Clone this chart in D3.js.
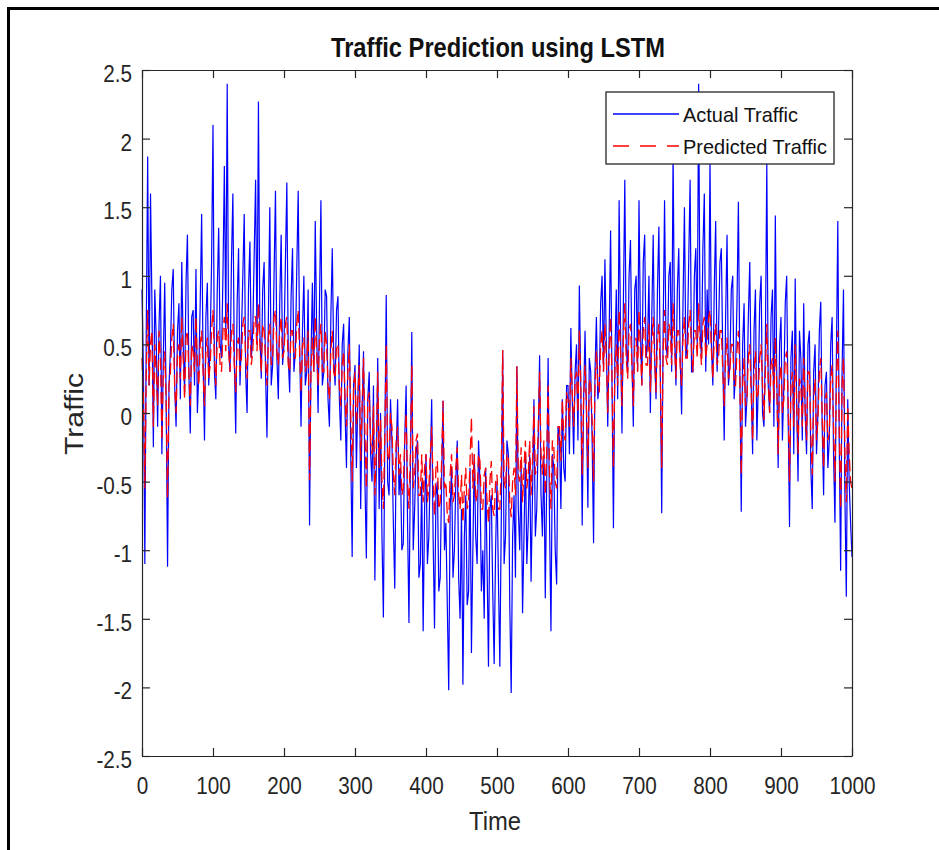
<!DOCTYPE html>
<html>
<head>
<meta charset="utf-8">
<script src="https://cdn.jsdelivr.net/npm/d3@7"></script>
<style>
  body { margin: 0; background: #fff; }
  text { font-family: "Liberation Sans", Arial, sans-serif; }
</style>
</head>
<body>
<div id="chart"></div>
<script>
// sample index runs 0..1000, one value every 2 steps
var timeStep = 2
var time = d3.range(0, 1001, timeStep)

var actualTraffic = [
 0.9, 0.3, -1.1, 0.6, 1.87, 0.2, 1.6, 0.8, -0.25, 0.9, 0.55, -0.1, 0.65, 1.0, -0.3, 0.4, 0.95, 0.1, -1.12, 0.2,
 0.45, 0.9, 1.05, 0.2, -0.1, 0.6, 0.8, 0.1, 1.1, 0.5, 0.15, 0.95, 1.3, 0.3, -0.15, 0.7, 0.75, 0.2, 1.05, 0.0,
 0.3, 0.8, 1.45, 0.4, -0.2, 0.7, 0.95, 0.2, 0.5, 1.1, 2.1, 0.3, 0.1, 0.9, 1.35, 0.5, 0.4, 1.0, 1.8, 0.6,
 2.4, 0.5, 0.3, 1.1, 1.6, 0.4, -0.15, 0.8, 1.2, 0.2, 0.55, 1.0, 1.45, 0.3, 0.0, 0.9, 1.25, 0.4, 0.6, 1.15,
 1.7, 0.5, 2.27, 0.6, 0.25, 0.9, 1.1, 0.3, -0.18, 0.7, 1.5, 0.2, 0.35, 1.0, 1.62, 0.4, 0.1, 0.8, 1.3, 0.35,
 0.5, 1.1, 1.68, 0.4, 0.15, 0.85, 1.2, 0.3, 0.45, 1.05, 1.62, 0.5, -0.1, 0.6, 1.0, 0.2, 0.3, 0.9, -0.82, 0.4,
 0.95, 0.3, 1.4, 0.6, 0.0, 0.8, 1.55, 0.2, 0.3, 0.9, 0.85, 0.1, -0.1, 0.7, 1.2, 0.4, 0.2, 0.75, 0.85, 0.1,
 -0.2, 0.5, 0.65, 0.0, -0.4, 0.45, 0.7, -0.3, -1.05, 0.2, 0.35, -0.4, 0.1, 0.5, -0.7, 0.0, 0.45, -0.5, -1.06, 0.1,
 0.3, -0.3, -0.5, 0.2, -1.22, -0.4, 0.4, -0.7, 0.0, -0.9, -1.49, -0.2, 0.86, -0.5, -0.6, 0.1, -0.2, -0.8, -1.28, -0.3,
 0.1, -0.6, -0.4, -1.0, -0.95, -0.2, 0.2, -0.8, -1.53, -0.4, 0.59, -1.0, -0.7, -0.3, -0.2, -1.2, -1.1, -0.5, -1.59, -0.7,
 -0.3, -1.1, -0.9, -0.4, 0.1, -0.9, -1.57, -0.6, -0.5, -1.3, -1.2, -0.5, 0.09, -1.0, -0.8, -1.4, -2.02, -0.7, -0.4, -1.2,
 -1.0, -0.5, -0.2, -1.2, -1.5, -0.7, -1.98, -0.9, -0.6, -1.4, -1.3, -0.4, -1.75, -1.0, -0.3, -0.9, -1.1, -0.2, -0.5, -1.3,
 -1.0, -1.5, -0.4, -1.1, -1.85, -0.7, -0.6, -1.3, -1.83, -1.0, -0.5, -1.2, -1.85, -0.8, 0.46, -1.1, -0.9, -0.2, -0.3, -1.4,
 -2.04, -0.9, -0.6, -1.2, 0.34, -0.7, -1.0, -0.4, -1.46, -0.9, -0.3, -1.1, -0.8, -0.3, -1.23, -0.6, 0.1, -0.9, -0.7, -0.2,
 0.42, -0.6, -0.9, -0.3, -1.35, -0.5, 0.4, -0.8, -1.59, -0.3, -0.4, -1.0, -1.25, -0.1, -0.2, -0.7, 0.1, -0.4, -0.5, 0.2,
 0.2, -0.3, 0.62, 0.1, -0.3, 0.3, 0.5, -0.2, 0.93, 0.2, -0.82, 0.1, 0.6, 0.0, -0.69, 0.4, 0.3, -0.2, -0.95, 0.3,
 0.7, 0.1, 0.2, 0.8, 1.0, 0.3, 1.12, 0.5, -0.1, 0.6, 1.33, 0.2, -0.84, 0.4, 0.9, 0.1, 1.55, 0.6, -0.15, 0.8,
 1.7, 0.5, 0.3, 1.0, 1.26, 0.4, -0.1, 0.9, 1.0, 0.3, 1.55, 0.6, 0.2, 1.1, 1.3, 0.4, 0.5, 1.0, 0.0, 0.7,
 1.3, 0.4, 0.1, 0.9, 1.36, 0.3, -0.73, 0.6, 1.55, 0.5, 0.4, 1.0, 1.1, 0.3, 1.9, 0.6, 0.2, 0.9, 1.2, 0.4,
 -0.01, 0.8, 1.5, 0.4, 0.5, 1.1, 1.7, 0.3, 0.3, 1.0, 1.2, 0.5, 2.4, 0.6, 0.4, 1.2, 1.6, 0.3, 0.9, 0.5,
 1.85, 0.5, 0.2, 0.9, 1.4, 0.3, 0.6, 1.1, 1.2, 0.4, -0.2, 0.7, 1.3, 0.2, 0.35, 0.9, 1.0, 0.1, 0.3, 0.8,
 1.54, 0.3, -0.72, 0.5, 0.8, -0.1, 0.1, 0.7, 1.1, 0.2, -0.3, 0.6, 0.9, -0.2, 0.2, 0.8, 1.0, 0.0, -0.1, 0.5,
 1.82, 0.2, 0.0, 0.7, 0.9, -0.1, 1.44, 0.3, -0.4, 0.5, 0.7, -0.2, 0.2, 0.8, 1.0, 0.0, -0.83, 0.4, 0.6, -0.3,
 0.98, 0.1, -0.5, 0.6, 0.4, -0.2, 0.8, 0.0, -0.3, 0.5, 0.6, -0.4, -0.7, 0.3, 0.5, -0.3, 0.0, 0.6, 0.81, -0.1,
 -0.6, 0.2, 0.3, -0.4, -0.2, 0.5, 0.7, -0.3, -0.8, 0.4, 1.4, -0.2, -1.15, 0.3, 0.9, -0.6, -1.34, 0.1, -0.5, -0.8,
 -1.05]

var predictedTraffic = [
 0.4, 0.1, -0.55, 0.3, 0.75, 0.2, 0.5, 0.6, -0.1, 0.5, 0.3, 0.05, 0.6, 0.4, -0.2, 0.3, 0.45, 0.1, -0.62, 0.2,
 0.3, 0.55, 0.65, 0.2, 0.0, 0.45, 0.5, 0.25, 0.7, 0.4, 0.1, 0.55, 0.6, 0.3, 0.05, 0.5, 0.45, 0.3, 0.7, 0.35,
 0.2, 0.5, 0.6, 0.3, 0.05, 0.45, 0.55, 0.25, 0.35, 0.6, 0.75, 0.4, 0.2, 0.55, 0.6, 0.35, 0.3, 0.6, 0.7, 0.45,
 0.8, 0.45, 0.3, 0.6, 0.65, 0.35, 0.15, 0.5, 0.55, 0.3, 0.4, 0.65, 0.7, 0.4, 0.25, 0.6, 0.6, 0.35, 0.45, 0.7,
 0.7, 0.45, 0.8, 0.5, 0.3, 0.65, 0.6, 0.4, 0.2, 0.55, 0.65, 0.35, 0.4, 0.7, 0.75, 0.45, 0.35, 0.6, 0.7, 0.4,
 0.45, 0.65, 0.7, 0.35, 0.3, 0.6, 0.6, 0.4, 0.4, 0.65, 0.75, 0.45, 0.15, 0.5, 0.55, 0.3, 0.35, 0.6, -0.49, 0.3,
 0.55, 0.3, 0.7, 0.45, 0.2, 0.55, 0.65, 0.3, 0.3, 0.6, 0.5, 0.2, 0.1, 0.45, 0.6, 0.3, 0.25, 0.5, 0.5, 0.2,
 0.05, 0.35, 0.45, 0.1, -0.1, 0.3, 0.5, 0.0, -0.5, 0.2, 0.3, -0.1, 0.1, 0.35, -0.35, 0.05, 0.4, -0.15, -0.55, 0.1,
 0.15, -0.2, -0.3, 0.05, -0.6, -0.25, 0.3, -0.4, -0.05, -0.5, -0.7, -0.15, 0.5, -0.3, -0.35, 0.0, -0.1, -0.45, -0.6, -0.2,
 -0.1, -0.45, -0.3, -0.6, -0.55, -0.2, 0.0, -0.5, -0.7, -0.3, 0.35, -0.55, -0.45, -0.2, -0.15, -0.6, -0.6, -0.3, -0.65, -0.4,
 -0.3, -0.65, -0.55, -0.3, -0.1, -0.5, -0.75, -0.4, -0.35, -0.7, -0.65, -0.35, 0.09, -0.55, -0.5, -0.75, -0.8, -0.45, -0.3, -0.65,
 -0.6, -0.4, -0.25, -0.6, -0.7, -0.45, -0.8, -0.55, -0.4, -0.7, -0.65, -0.35, -0.03, -0.55, -0.3, -0.65, -0.6, -0.3, -0.35, -0.7,
 -0.7, -0.45, -0.4, -0.65, -0.8, -0.5, -0.35, -0.7, -0.75, -0.5, -0.45, -0.7, -0.7, -0.4, 0.46, -0.5, -0.55, -0.3, -0.3, -0.65,
 -0.76, -0.5, -0.4, -0.6, 0.34, -0.45, -0.5, -0.25, -0.65, -0.4, -0.2, -0.55, -0.45, -0.2, -0.6, -0.35, 0.05, -0.45, -0.4, -0.15,
 0.3, -0.3, -0.45, -0.2, -0.6, -0.3, 0.2, -0.45, -0.7, -0.2, -0.25, -0.5, -0.55, -0.1, -0.1, -0.35, 0.1, -0.15, -0.2, 0.15,
 0.1, -0.1, 0.4, 0.15, -0.1, 0.25, 0.3, 0.0, 0.6, 0.2, -0.45, 0.1, 0.35, 0.05, -0.4, 0.25, 0.2, -0.05, -0.5, 0.2,
 0.45, 0.2, 0.15, 0.5, 0.6, 0.3, 0.65, 0.4, 0.0, 0.45, 0.7, 0.25, -0.4, 0.3, 0.5, 0.2, 0.75, 0.45, 0.05, 0.55,
 0.8, 0.4, 0.25, 0.6, 0.65, 0.35, 0.05, 0.5, 0.55, 0.3, 0.75, 0.45, 0.2, 0.6, 0.7, 0.35, 0.35, 0.65, 0.15, 0.5,
 0.7, 0.4, 0.15, 0.55, 0.65, 0.3, -0.4, 0.45, 0.75, 0.4, 0.35, 0.65, 0.6, 0.35, 0.8, 0.5, 0.25, 0.6, 0.6, 0.35,
 0.2, 0.55, 0.7, 0.4, 0.4, 0.65, 0.75, 0.45, 0.3, 0.6, 0.6, 0.4, 0.8, 0.5, 0.35, 0.65, 0.7, 0.4, 0.5, 0.7,
 0.75, 0.45, 0.25, 0.55, 0.65, 0.35, 0.4, 0.6, 0.6, 0.3, 0.05, 0.4, 0.55, 0.25, 0.3, 0.5, 0.5, 0.2, 0.2, 0.45,
 0.6, 0.3, -0.45, 0.2, 0.4, 0.05, 0.1, 0.4, 0.5, 0.15, -0.2, 0.3, 0.45, 0.1, 0.15, 0.4, 0.5, 0.2, -0.05, 0.3,
 0.65, 0.25, 0.0, 0.35, 0.4, 0.1, 0.55, 0.2, -0.3, 0.25, 0.35, 0.0, 0.1, 0.4, 0.45, 0.1, -0.5, 0.2, 0.3, -0.1,
 0.5, 0.1, -0.3, 0.25, 0.2, -0.1, 0.4, 0.05, -0.2, 0.3, 0.3, -0.15, -0.45, 0.1, 0.25, -0.2, -0.05, 0.3, 0.4, 0.0,
 -0.4, 0.1, 0.15, -0.2, -0.15, 0.25, 0.35, -0.1, -0.5, 0.2, 0.6, -0.1, -0.7, 0.2, 0.4, -0.3, -0.65, 0.05, -0.3, -0.5,
 -0.55]

var xTicks = [0, 100, 200, 300, 400, 500, 600, 700, 800, 900, 1000]
var yTicks = [-2.5, -2, -1.5, -1, -0.5, 0, 0.5, 1, 1.5, 2, 2.5]
var seriesNames = ["Actual Traffic", "Predicted Traffic"]

var W = 939, H = 850
var plot = {left: 142, right: 852, top: 70, bottom: 756}
var axisColor = "#262626"

var svg = d3.select("#chart").append("svg")
    .attr("width", W)
    .attr("height", H)

// outer frame of the pasted figure (right / bottom edge run off the page)
svg.append("rect")
    .attr("x", 8.5).attr("y", 8.5)
    .attr("width", 960).attr("height", 870)
    .style("fill", "none")
    .style("stroke", "#000")
    .style("stroke-width", 3)

var x = d3.scaleLinear().domain([0, 1000]).range([plot.left, plot.right])
var y = d3.scaleLinear().domain([-2.5, 2.5]).range([plot.bottom, plot.top])

var rows = time.map(function(t, i) {
  return {t: t, actual: actualTraffic[i], predicted: predictedTraffic[i]}
})

var lineActual = d3.line()
    .x(function(d) { return x(d.t) })
    .y(function(d) { return y(d.actual) })
var linePred = d3.line()
    .x(function(d) { return x(d.t) })
    .y(function(d) { return y(d.predicted) })

svg.append("path")
    .datum(rows)
    .attr("d", lineActual)
    .style("fill", "none")
    .style("stroke", "#0000ff")
    .style("stroke-width", 1.2)

svg.append("path")
    .datum(rows)
    .attr("d", linePred)
    .style("fill", "none")
    .style("stroke", "#ff0000")
    .style("stroke-width", 1.3)
    .style("stroke-dasharray", "12,5")

// axes, ticks pointing inward on all four sides
var gx = svg.append("g")
    .attr("transform", "translate(0," + plot.bottom + ")")
    .call(d3.axisBottom(x).tickValues(xTicks).tickSizeInner(-8).tickSizeOuter(0)
      .tickPadding(22).tickFormat(function(d) { return String(d) }))
var gxTop = svg.append("g")
    .attr("transform", "translate(0," + plot.top + ")")
    .call(d3.axisTop(x).tickValues(xTicks).tickSizeInner(-8).tickSizeOuter(0).tickFormat(""))
var gy = svg.append("g")
    .attr("transform", "translate(" + plot.left + ",0)")
    .call(d3.axisLeft(y).tickValues(yTicks).tickSizeInner(-8).tickSizeOuter(0)
      .tickPadding(11).tickFormat(function(d) { return String(d) }))
var gyRight = svg.append("g")
    .attr("transform", "translate(" + plot.right + ",0)")
    .call(d3.axisRight(y).tickValues(yTicks).tickSizeInner(-8).tickSizeOuter(0).tickFormat(""))

;[gx, gxTop, gy, gyRight].forEach(function(g) {
  g.selectAll("path, line").style("stroke", axisColor).style("stroke-width", 1.2)
  g.selectAll("text")
    .style("font-family", "'Liberation Sans', Arial, sans-serif")
    .style("font-size", "23px")
    .style("fill", axisColor)
})
gx.selectAll("text").attr("transform", "scale(0.9,1)")
gy.selectAll("text").attr("dy", "0.5em").attr("transform", "scale(0.9,1)")

// title and axis labels
svg.append("text")
    .text("Traffic Prediction using LSTM")
    .attr("x", 331).attr("y", 57)
    .attr("textLength", 334).attr("lengthAdjust", "spacingAndGlyphs")
    .style("font-size", "28px")
    .style("font-weight", "bold")
    .style("fill", "#111")

svg.append("text")
    .text("Time")
    .attr("x", 469).attr("y", 830)
    .attr("textLength", 52).attr("lengthAdjust", "spacingAndGlyphs")
    .style("font-size", "26px")
    .style("fill", axisColor)

svg.append("text")
    .text("Traffic")
    .attr("transform", "translate(83,455) rotate(-90)")
    .attr("textLength", 82).attr("lengthAdjust", "spacingAndGlyphs")
    .style("font-size", "26px")
    .style("fill", axisColor)

// legend
var legend = svg.append("g")
legend.append("rect")
    .attr("x", 606).attr("y", 92)
    .attr("width", 228).attr("height", 72)
    .style("fill", "#fff")
    .style("stroke", axisColor)
    .style("stroke-width", 1.3)

var legendRows = [
  {name: seriesNames[0], color: "#0000ff", dash: null, ly: 114, ty: 121.5, len: 115},
  {name: seriesNames[1], color: "#ff0000", dash: "16,11", ly: 146, ty: 154, len: 144}
]
legendRows.forEach(function(r) {
  legend.append("line")
    .attr("x1", 613).attr("x2", 679)
    .attr("y1", r.ly).attr("y2", r.ly)
    .style("stroke", r.color)
    .style("stroke-width", 1.4)
    .style("stroke-dasharray", r.dash)
  legend.append("text")
    .text(r.name)
    .attr("x", 683).attr("y", r.ty)
    .attr("textLength", r.len).attr("lengthAdjust", "spacingAndGlyphs")
    .style("font-size", "21px")
    .style("fill", "#111")
})
</script>
</body>
</html>
